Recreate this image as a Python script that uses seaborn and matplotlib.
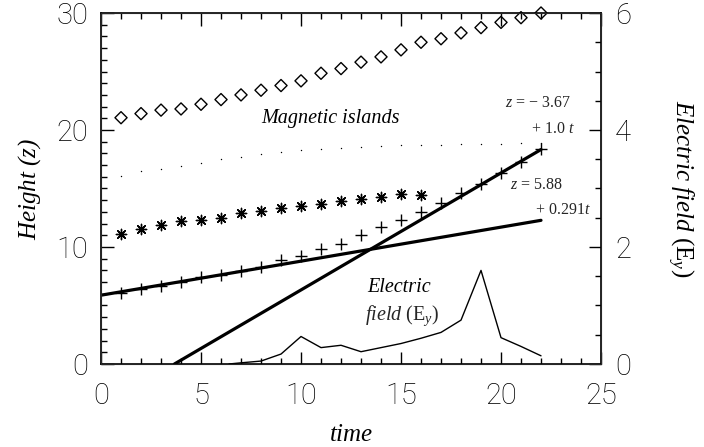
import numpy as np
import pandas as pd
import matplotlib
matplotlib.use("Agg")
import matplotlib.pyplot as plt
from matplotlib.ticker import MultipleLocator
import seaborn as sns

# values
t_all = list(range(1, 23))
islands = [21.05, 21.4, 21.7, 21.8, 22.2, 22.6, 23.0, 23.4, 23.8, 24.2, 24.85,
           25.25, 25.8, 26.25, 26.85, 27.5, 27.8, 28.3, 28.75, 29.2, 29.6, 30.0]
dots = [16.1, 16.5, 16.7, 16.95, 17.2, 17.5, 17.7, 17.95, 18.1, 18.3, 18.4,
        18.5, 18.55, 18.65, 18.7, 18.7, 18.75, 18.8, 18.8, 18.8, 18.85, 18.85]
t_star = list(range(1, 17))
stars = [11.1, 11.5, 11.9, 12.2, 12.3, 12.5, 12.9, 13.1, 13.3, 13.5, 13.7,
         13.9, 14.1, 14.3, 14.5, 14.45]
plus = [6.1, 6.4, 6.7, 7.0, 7.4, 7.6, 7.95, 8.3, 8.9, 9.2, 9.8, 10.25, 11.0,
        11.7, 12.3, 13.0, 13.8, 14.6, 15.4, 16.3, 17.3, 18.4]
t_field = [6.4, 7, 8, 9, 10, 11, 12, 13, 14, 15, 16, 17, 18, 19, 20, 21, 22]
field = [0.0, 0.02, 0.05, 0.17, 0.47, 0.28, 0.32, 0.21, 0.28, 0.35, 0.44,
         0.54, 0.75, 1.6, 0.45, 0.3, 0.14]
fit1_t = [3.67, 22]
fit1_z = [0.0, 18.33]
fit2_t = [0, 22]
fit2_z = [5.88, 12.28]

sns.set_style("ticks")
plt.rcParams['font.family'] = ['Roboto', 'DejaVu Sans']
plt.rcParams['font.weight'] = 'light'
plt.rcParams['mathtext.fontset'] = 'custom'
plt.rcParams['mathtext.rm'] = 'Liberation Serif'
plt.rcParams['mathtext.it'] = 'Liberation Serif:italic'

fig = plt.figure(figsize=(7.04, 4.47), dpi=100)
ax = fig.add_axes([0.1435, 0.1857, 0.7102, 0.7852])

serif = dict(family='Liberation Serif', style='italic', color='black',
             weight='normal')

sns.scatterplot(x=t_all, y=islands, marker='D', s=38, facecolors='none',
                edgecolor='black', linewidth=1.0, ax=ax, clip_on=False, zorder=5)
sns.scatterplot(x=t_all, y=dots, marker='.', s=4, color='black',
                linewidth=0, ax=ax)
sns.scatterplot(x=t_star, y=stars, marker=(8, 2, 0), s=55, color='black',
                linewidth=1.0, ax=ax)
sns.scatterplot(x=t_all, y=plus, marker='+', s=70, color='black',
                linewidth=1.0, ax=ax)
sns.lineplot(x=fit1_t, y=fit1_z, color='black', lw=2.3, ax=ax)
sns.lineplot(x=fit2_t, y=fit2_z, color='black', lw=2.3, ax=ax)

ax.set_xlim(0, 25)
ax.set_ylim(0, 30)
ax.xaxis.set_major_locator(MultipleLocator(5))
ax.xaxis.set_minor_locator(MultipleLocator(1))
ax.yaxis.set_major_locator(MultipleLocator(10))
ax.yaxis.set_minor_locator(MultipleLocator(1))
ax.tick_params(which='both', direction='in', top=True, right=False,
               color='black', width=1.0, labelsize=21, labelcolor='black')
ax.tick_params(axis='x', pad=13)
ax.tick_params(axis='y', pad=9)
ax.tick_params(which='major', length=9)
ax.tick_params(which='minor', length=4)
for sp in ax.spines.values():
    sp.set_linewidth(1.2)
    sp.set_color('black')

ax2 = ax.twinx()
sns.lineplot(x=t_field, y=field, color='black', lw=1.0, ax=ax2)
ax2.set_ylim(0, 6)
ax2.yaxis.set_major_locator(MultipleLocator(2))
ax2.yaxis.set_minor_locator(MultipleLocator(0.5))
ax2.tick_params(which='both', direction='in', color='black', width=1.0,
                labelsize=21, labelcolor='black', pad=10)
ax2.tick_params(which='major', length=9)
ax2.tick_params(which='minor', length=4)

ax.set_xlabel('time', fontsize=18, labelpad=10, **serif)
ax.set_ylabel('Height ($\\mathit{z}$)', fontsize=18, labelpad=10, **serif)
ax2.set_ylabel('$\\mathit{Electric\\ field}$ (E$_{\\mathit{y}}$)', fontsize=18,
               rotation=270, labelpad=46, family='Liberation Serif',
               color='black', weight='normal')

ax.text(11.45, 21.0, 'Magnetic islands', fontsize=14.5, ha='center',
        va='center', **serif)
ax.text(23.5, 22.3, '$\\mathit{z}$ = \u2212 3.67', fontsize=11.5, ha='right',
        va='center', family='Liberation Serif', weight='normal')
ax.text(23.7, 20.1, '+ 1.0 $\\mathit{t}$', fontsize=11.5, ha='right',
        va='center', family='Liberation Serif', weight='normal')
ax.text(23.1, 15.3, '$\\mathit{z}$ = 5.88', fontsize=11.5, ha='right',
        va='center', family='Liberation Serif', weight='normal')
ax.text(24.5, 13.2, '+ 0.291$\\mathit{t}$', fontsize=11.5, ha='right',
        va='center', family='Liberation Serif', weight='normal')
ax.text(13.3, 6.5, 'Electric', fontsize=14.5, ha='left', va='center', **serif)
ax.text(13.2, 4.1, '$\\mathit{field}$ (E$_{\\mathit{y}}$)', fontsize=14.5,
        ha='left', va='center', family='Liberation Serif', weight='normal')

fig.savefig('out.png', dpi=100)
